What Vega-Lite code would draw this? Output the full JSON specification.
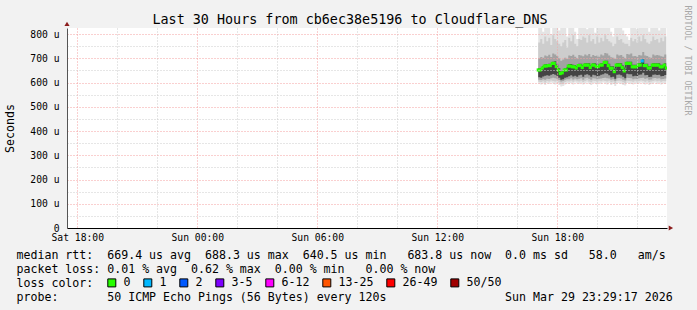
{
  "$schema": "https://vega.github.io/schema/vega-lite/v6.json",
  "width": 600,
  "height": 200,
  "autosize": "none",
  "padding": {"left": 67, "top": 28, "right": 30, "bottom": 82},
  "background": "#f2f2f2",
  "view": {"fill": "white", "stroke": null},
  "title": {
    "text": "Last 30 Hours from cb6ec38e5196 to Cloudflare_DNS",
    "font": "DejaVu Sans Mono",
    "fontSize": 13.4,
    "fontWeight": "normal",
    "color": "black",
    "anchor": "middle",
    "frame": "group",
    "dx": -17,
    "dy": 14,
    "offset": -18,
    "baseline": "alphabetic"
  },
  "config": {
    "font": "DejaVu Sans Mono",
    "axis": {"labelFont": "DejaVu Sans Mono", "titleFont": "DejaVu Sans Mono"}
  },
  "resolve": {"axis": {"y": "independent"}},
  "data": {
    "values": [
      {"time": "2026-03-29T17:03:00Z", "median": 652, "loss": "0", "min": 595, "p10": 603, "p25": 612, "p40": 622, "p60": 660, "p75": 700, "p90": 765, "max": 825},
      {"time": "2026-03-29T17:09:00Z", "median": 652, "loss": "0", "min": 592, "p10": 602, "p25": 610, "p40": 620, "p60": 660, "p75": 705, "p90": 780, "max": 825},
      {"time": "2026-03-29T17:15:00Z", "median": 660, "loss": "0", "min": 596, "p10": 605, "p25": 614, "p40": 625, "p60": 668, "p75": 702, "p90": 760, "max": 810},
      {"time": "2026-03-29T17:21:00Z", "median": 668, "loss": "0", "min": 590, "p10": 600, "p25": 612, "p40": 628, "p60": 675, "p75": 712, "p90": 790, "max": 825},
      {"time": "2026-03-29T17:27:00Z", "median": 668, "loss": "0", "min": 598, "p10": 606, "p25": 616, "p40": 630, "p60": 676, "p75": 708, "p90": 770, "max": 825},
      {"time": "2026-03-29T17:33:00Z", "median": 670, "loss": "0", "min": 594, "p10": 604, "p25": 615, "p40": 628, "p60": 678, "p75": 715, "p90": 785, "max": 825},
      {"time": "2026-03-29T17:39:00Z", "median": 670, "loss": "0", "min": 600, "p10": 608, "p25": 618, "p40": 632, "p60": 678, "p75": 705, "p90": 755, "max": 800},
      {"time": "2026-03-29T17:45:00Z", "median": 679, "loss": "0", "min": 596, "p10": 606, "p25": 620, "p40": 635, "p60": 686, "p75": 720, "p90": 795, "max": 825},
      {"time": "2026-03-29T17:51:00Z", "median": 679, "loss": "0", "min": 592, "p10": 604, "p25": 618, "p40": 632, "p60": 688, "p75": 716, "p90": 780, "max": 825},
      {"time": "2026-03-29T17:57:00Z", "median": 666, "loss": "0", "min": 598, "p10": 607, "p25": 616, "p40": 628, "p60": 674, "p75": 710, "p90": 770, "max": 825},
      {"time": "2026-03-29T18:03:00Z", "median": 652, "loss": "0", "min": 590, "p10": 600, "p25": 610, "p40": 620, "p60": 660, "p75": 700, "p90": 760, "max": 815},
      {"time": "2026-03-29T18:09:00Z", "median": 637, "loss": "0", "min": 584, "p10": 594, "p25": 604, "p40": 612, "p60": 646, "p75": 690, "p90": 750, "max": 825},
      {"time": "2026-03-29T18:15:00Z", "median": 640, "loss": "0", "min": 586, "p10": 596, "p25": 606, "p40": 614, "p60": 650, "p75": 695, "p90": 765, "max": 825},
      {"time": "2026-03-29T18:21:00Z", "median": 652, "loss": "0", "min": 592, "p10": 602, "p25": 612, "p40": 620, "p60": 660, "p75": 702, "p90": 775, "max": 825},
      {"time": "2026-03-29T18:27:00Z", "median": 652, "loss": "0", "min": 596, "p10": 605, "p25": 614, "p40": 622, "p60": 662, "p75": 698, "p90": 745, "max": 790},
      {"time": "2026-03-29T18:33:00Z", "median": 668, "loss": "0", "min": 594, "p10": 604, "p25": 614, "p40": 626, "p60": 676, "p75": 712, "p90": 785, "max": 825},
      {"time": "2026-03-29T18:39:00Z", "median": 668, "loss": "0", "min": 598, "p10": 607, "p25": 618, "p40": 630, "p60": 676, "p75": 710, "p90": 770, "max": 825},
      {"time": "2026-03-29T18:45:00Z", "median": 665, "loss": "0", "min": 592, "p10": 603, "p25": 613, "p40": 625, "p60": 673, "p75": 715, "p90": 795, "max": 825},
      {"time": "2026-03-29T18:51:00Z", "median": 665, "loss": "0", "min": 600, "p10": 608, "p25": 617, "p40": 628, "p60": 672, "p75": 706, "p90": 760, "max": 810},
      {"time": "2026-03-29T18:57:00Z", "median": 660, "loss": "0", "min": 596, "p10": 605, "p25": 614, "p40": 624, "p60": 668, "p75": 700, "p90": 750, "max": 780},
      {"time": "2026-03-29T19:03:00Z", "median": 670, "loss": "0", "min": 594, "p10": 604, "p25": 616, "p40": 630, "p60": 678, "p75": 714, "p90": 780, "max": 825},
      {"time": "2026-03-29T19:09:00Z", "median": 670, "loss": "0", "min": 598, "p10": 607, "p25": 618, "p40": 632, "p60": 678, "p75": 712, "p90": 775, "max": 825},
      {"time": "2026-03-29T19:15:00Z", "median": 662, "loss": "0", "min": 592, "p10": 602, "p25": 612, "p40": 624, "p60": 670, "p75": 708, "p90": 790, "max": 825},
      {"time": "2026-03-29T19:21:00Z", "median": 672, "loss": "0", "min": 596, "p10": 606, "p25": 618, "p40": 632, "p60": 680, "p75": 716, "p90": 785, "max": 825},
      {"time": "2026-03-29T19:27:00Z", "median": 672, "loss": "0", "min": 600, "p10": 609, "p25": 620, "p40": 634, "p60": 680, "p75": 712, "p90": 765, "max": 820},
      {"time": "2026-03-29T19:33:00Z", "median": 672, "loss": "0", "min": 594, "p10": 604, "p25": 616, "p40": 630, "p60": 680, "p75": 718, "p90": 795, "max": 825},
      {"time": "2026-03-29T19:39:00Z", "median": 662, "loss": "0", "min": 590, "p10": 601, "p25": 612, "p40": 624, "p60": 670, "p75": 706, "p90": 770, "max": 825},
      {"time": "2026-03-29T19:45:00Z", "median": 672, "loss": "0", "min": 598, "p10": 607, "p25": 618, "p40": 632, "p60": 680, "p75": 714, "p90": 780, "max": 825},
      {"time": "2026-03-29T19:51:00Z", "median": 672, "loss": "0", "min": 596, "p10": 606, "p25": 617, "p40": 630, "p60": 680, "p75": 710, "p90": 760, "max": 805},
      {"time": "2026-03-29T19:57:00Z", "median": 666, "loss": "0", "min": 592, "p10": 603, "p25": 614, "p40": 626, "p60": 674, "p75": 712, "p90": 790, "max": 825},
      {"time": "2026-03-29T20:03:00Z", "median": 666, "loss": "0", "min": 598, "p10": 607, "p25": 616, "p40": 628, "p60": 674, "p75": 706, "p90": 765, "max": 825},
      {"time": "2026-03-29T20:09:00Z", "median": 672, "loss": "0", "min": 594, "p10": 605, "p25": 617, "p40": 632, "p60": 680, "p75": 716, "p90": 785, "max": 825},
      {"time": "2026-03-29T20:15:00Z", "median": 672, "loss": "0", "min": 600, "p10": 608, "p25": 619, "p40": 634, "p60": 680, "p75": 712, "p90": 770, "max": 825},
      {"time": "2026-03-29T20:21:00Z", "median": 683, "loss": "0", "min": 596, "p10": 606, "p25": 620, "p40": 638, "p60": 690, "p75": 722, "p90": 795, "max": 825},
      {"time": "2026-03-29T20:27:00Z", "median": 683, "loss": "0", "min": 592, "p10": 604, "p25": 618, "p40": 636, "p60": 690, "p75": 720, "p90": 780, "max": 825},
      {"time": "2026-03-29T20:33:00Z", "median": 670, "loss": "0", "min": 598, "p10": 607, "p25": 617, "p40": 630, "p60": 678, "p75": 712, "p90": 770, "max": 825},
      {"time": "2026-03-29T20:39:00Z", "median": 659, "loss": "0", "min": 590, "p10": 601, "p25": 612, "p40": 622, "p60": 667, "p75": 704, "p90": 765, "max": 810},
      {"time": "2026-03-29T20:45:00Z", "median": 659, "loss": "0", "min": 594, "p10": 604, "p25": 614, "p40": 624, "p60": 667, "p75": 702, "p90": 750, "max": 790},
      {"time": "2026-03-29T20:51:00Z", "median": 645, "loss": "0", "min": 586, "p10": 597, "p25": 607, "p40": 616, "p60": 654, "p75": 698, "p90": 760, "max": 825},
      {"time": "2026-03-29T20:57:00Z", "median": 672, "loss": "0", "min": 596, "p10": 606, "p25": 618, "p40": 632, "p60": 680, "p75": 716, "p90": 790, "max": 825},
      {"time": "2026-03-29T21:03:00Z", "median": 672, "loss": "0", "min": 598, "p10": 607, "p25": 619, "p40": 633, "p60": 680, "p75": 712, "p90": 775, "max": 825},
      {"time": "2026-03-29T21:09:00Z", "median": 672, "loss": "0", "min": 594, "p10": 605, "p25": 617, "p40": 630, "p60": 680, "p75": 714, "p90": 780, "max": 825},
      {"time": "2026-03-29T21:15:00Z", "median": 662, "loss": "0", "min": 590, "p10": 601, "p25": 612, "p40": 624, "p60": 670, "p75": 706, "p90": 765, "max": 815},
      {"time": "2026-03-29T21:21:00Z", "median": 648, "loss": "0", "min": 588, "p10": 598, "p25": 608, "p40": 618, "p60": 656, "p75": 700, "p90": 760, "max": 800},
      {"time": "2026-03-29T21:27:00Z", "median": 679, "loss": "0", "min": 598, "p10": 607, "p25": 620, "p40": 636, "p60": 686, "p75": 718, "p90": 760, "max": 790},
      {"time": "2026-03-29T21:33:00Z", "median": 679, "loss": "0", "min": 596, "p10": 606, "p25": 619, "p40": 634, "p60": 686, "p75": 716, "p90": 750, "max": 775},
      {"time": "2026-03-29T21:39:00Z", "median": 679, "loss": "0", "min": 594, "p10": 605, "p25": 618, "p40": 634, "p60": 686, "p75": 720, "p90": 785, "max": 825},
      {"time": "2026-03-29T21:45:00Z", "median": 665, "loss": "0", "min": 592, "p10": 603, "p25": 614, "p40": 626, "p60": 673, "p75": 708, "p90": 770, "max": 825},
      {"time": "2026-03-29T21:51:00Z", "median": 665, "loss": "0", "min": 598, "p10": 607, "p25": 616, "p40": 628, "p60": 673, "p75": 710, "p90": 780, "max": 825},
      {"time": "2026-03-29T21:57:00Z", "median": 665, "loss": "0", "min": 594, "p10": 604, "p25": 615, "p40": 627, "p60": 673, "p75": 706, "p90": 765, "max": 820},
      {"time": "2026-03-29T22:03:00Z", "median": 672, "loss": "0", "min": 596, "p10": 606, "p25": 618, "p40": 632, "p60": 680, "p75": 714, "p90": 790, "max": 825},
      {"time": "2026-03-29T22:09:00Z", "median": 672, "loss": "0", "min": 600, "p10": 608, "p25": 619, "p40": 633, "p60": 680, "p75": 712, "p90": 770, "max": 825},
      {"time": "2026-03-29T22:15:00Z", "median": 689, "loss": "1", "min": 596, "p10": 606, "p25": 620, "p40": 640, "p60": 696, "p75": 726, "p90": 795, "max": 825},
      {"time": "2026-03-29T22:21:00Z", "median": 670, "loss": "0", "min": 592, "p10": 603, "p25": 616, "p40": 630, "p60": 678, "p75": 712, "p90": 780, "max": 825},
      {"time": "2026-03-29T22:27:00Z", "median": 670, "loss": "0", "min": 598, "p10": 607, "p25": 618, "p40": 631, "p60": 678, "p75": 710, "p90": 765, "max": 825},
      {"time": "2026-03-29T22:33:00Z", "median": 660, "loss": "0", "min": 590, "p10": 601, "p25": 612, "p40": 623, "p60": 668, "p75": 704, "p90": 760, "max": 810},
      {"time": "2026-03-29T22:39:00Z", "median": 660, "loss": "0", "min": 594, "p10": 604, "p25": 613, "p40": 624, "p60": 668, "p75": 702, "p90": 770, "max": 825},
      {"time": "2026-03-29T22:45:00Z", "median": 672, "loss": "0", "min": 596, "p10": 606, "p25": 618, "p40": 632, "p60": 680, "p75": 716, "p90": 790, "max": 825},
      {"time": "2026-03-29T22:51:00Z", "median": 672, "loss": "0", "min": 600, "p10": 608, "p25": 619, "p40": 633, "p60": 680, "p75": 712, "p90": 775, "max": 825},
      {"time": "2026-03-29T22:57:00Z", "median": 672, "loss": "0", "min": 594, "p10": 605, "p25": 617, "p40": 631, "p60": 680, "p75": 714, "p90": 780, "max": 825},
      {"time": "2026-03-29T23:03:00Z", "median": 672, "loss": "0", "min": 598, "p10": 607, "p25": 618, "p40": 632, "p60": 680, "p75": 712, "p90": 765, "max": 815},
      {"time": "2026-03-29T23:09:00Z", "median": 665, "loss": "0", "min": 592, "p10": 603, "p25": 614, "p40": 626, "p60": 673, "p75": 708, "p90": 785, "max": 825},
      {"time": "2026-03-29T23:15:00Z", "median": 665, "loss": "0", "min": 596, "p10": 606, "p25": 615, "p40": 627, "p60": 673, "p75": 706, "p90": 770, "max": 825},
      {"time": "2026-03-29T23:21:00Z", "median": 672, "loss": "0", "min": 594, "p10": 605, "p25": 617, "p40": 631, "p60": 680, "p75": 716, "p90": 790, "max": 825},
      {"time": "2026-03-29T23:27:00Z", "median": 660, "loss": "0", "min": 598, "p10": 607, "p25": 614, "p40": 624, "p60": 668, "p75": 704, "p90": 775, "max": 825}
    ]
  },
  "layer": [
    {
      "mark": {"type": "area", "color": "#e4e4e4", "interpolate": "step-after", "clip": true},
      "encoding": {
        "x": {
          "field": "time", "type": "temporal",
          "scale": {"type": "utc", "domain": [{"year": 2026, "month": 3, "date": 28, "hours": 17, "minutes": 29, "seconds": 17, "utc": true}, {"year": 2026, "month": 3, "date": 29, "hours": 23, "minutes": 29, "seconds": 17, "utc": true}]},
          "axis": {
            "title": [
              "median\u00a0rtt:\u00a0\u00a0669.4\u00a0us\u00a0avg\u00a0\u00a0688.3\u00a0us\u00a0max\u00a0\u00a0640.5\u00a0us\u00a0min\u00a0\u00a0\u00a0683.8\u00a0us\u00a0now\u00a0\u00a00.0\u00a0ms\u00a0sd\u00a0\u00a0\u00a058.0\u00a0\u00a0\u00a0am/s",
              "packet\u00a0loss:\u00a00.01\u00a0%\u00a0avg\u00a0\u00a00.62\u00a0%\u00a0max\u00a0\u00a00.00\u00a0%\u00a0min\u00a0\u00a0\u00a00.00\u00a0%\u00a0now",
              "loss\u00a0color:",
              "probe:\u00a0\u00a0\u00a0\u00a0\u00a0\u00a0\u00a050\u00a0ICMP\u00a0Echo\u00a0Pings\u00a0(56\u00a0Bytes)\u00a0every\u00a0120s\u00a0\u00a0\u00a0\u00a0\u00a0\u00a0\u00a0\u00a0\u00a0\u00a0\u00a0\u00a0\u00a0\u00a0\u00a0\u00a0\u00a0Sun\u00a0Mar\u00a029\u00a023:29:17\u00a02026"
            ],
            "titleFont": "DejaVu Sans Mono",
            "titleFontSize": 11.6,
            "titleFontWeight": "normal",
            "titleColor": "black",
            "titleAnchor": "start",
            "titleAlign": "left",
            "titleBaseline": "alphabetic",
            "titleX": -51,
            "titleY": 30,
            "titleLineHeight": 14,
            "values": [
              {"year": 2026, "month": 3, "date": 28, "hours": 18, "utc": true},
              {"year": 2026, "month": 3, "date": 28, "hours": 19, "utc": true},
              {"year": 2026, "month": 3, "date": 28, "hours": 20, "utc": true},
              {"year": 2026, "month": 3, "date": 28, "hours": 21, "utc": true},
              {"year": 2026, "month": 3, "date": 28, "hours": 22, "utc": true},
              {"year": 2026, "month": 3, "date": 28, "hours": 23, "utc": true},
              {"year": 2026, "month": 3, "date": 29, "hours": 0, "utc": true},
              {"year": 2026, "month": 3, "date": 29, "hours": 1, "utc": true},
              {"year": 2026, "month": 3, "date": 29, "hours": 2, "utc": true},
              {"year": 2026, "month": 3, "date": 29, "hours": 3, "utc": true},
              {"year": 2026, "month": 3, "date": 29, "hours": 4, "utc": true},
              {"year": 2026, "month": 3, "date": 29, "hours": 5, "utc": true},
              {"year": 2026, "month": 3, "date": 29, "hours": 6, "utc": true},
              {"year": 2026, "month": 3, "date": 29, "hours": 7, "utc": true},
              {"year": 2026, "month": 3, "date": 29, "hours": 8, "utc": true},
              {"year": 2026, "month": 3, "date": 29, "hours": 9, "utc": true},
              {"year": 2026, "month": 3, "date": 29, "hours": 10, "utc": true},
              {"year": 2026, "month": 3, "date": 29, "hours": 11, "utc": true},
              {"year": 2026, "month": 3, "date": 29, "hours": 12, "utc": true},
              {"year": 2026, "month": 3, "date": 29, "hours": 13, "utc": true},
              {"year": 2026, "month": 3, "date": 29, "hours": 14, "utc": true},
              {"year": 2026, "month": 3, "date": 29, "hours": 15, "utc": true},
              {"year": 2026, "month": 3, "date": 29, "hours": 16, "utc": true},
              {"year": 2026, "month": 3, "date": 29, "hours": 17, "utc": true},
              {"year": 2026, "month": 3, "date": 29, "hours": 18, "utc": true},
              {"year": 2026, "month": 3, "date": 29, "hours": 19, "utc": true},
              {"year": 2026, "month": 3, "date": 29, "hours": 20, "utc": true},
              {"year": 2026, "month": 3, "date": 29, "hours": 21, "utc": true},
              {"year": 2026, "month": 3, "date": 29, "hours": 22, "utc": true},
              {"year": 2026, "month": 3, "date": 29, "hours": 23, "utc": true}
            ],
            "labelExpr": "utchours(datum.value) % 6 === 0 ? utcFormat(datum.value, '%a %H:%M') : ''",
            "labelFont": "DejaVu Sans Mono",
            "labelFontSize": 9.7,
            "labelColor": "black",
            "labelPadding": 4,
            "labelOverlap": false,
            "labelFlush": false,
            "labelAngle": 0,
            "ticks": false,
            "tickSize": 0,
            "domainColor": "black",
            "domainWidth": 1,
            "grid": true,
            "gridColor": {"condition": {"test": "utchours(datum.value) % 3 === 0", "value": "#f4a0a0"}, "value": "#cccccc"},
            "gridDash": [1, 2],
            "gridWidth": 1,
            "zindex": 1
          }
        },
        "y": {
          "field": "min", "type": "quantitative",
          "scale": {"domain": [0, 825], "nice": false, "zero": true},
          "axis": {
            "orient": "left",
            "title": "Seconds",
            "titleFont": "DejaVu Sans Mono",
            "titleFontSize": 11.6,
            "titleFontWeight": "normal",
            "titleColor": "black",
            "titleAngle": 270,
            "titleX": -56.5,
            "titleY": 100,
            "titleAlign": "center",
            "titleBaseline": "middle",
            "values": [0, 50, 100, 150, 200, 250, 300, 350, 400, 450, 500, 550, 600, 650, 700, 750, 800],
            "labelExpr": "datum.value % 100 !== 0 ? '' : (datum.value === 0 ? '0\u00a0\u00a0' : datum.value + '\u00a0u')",
            "labelFont": "DejaVu Sans Mono",
            "labelFontSize": 9.7,
            "labelColor": "black",
            "labelPadding": 8,
            "labelOverlap": false,
            "labelFlush": false,
            "ticks": false,
            "tickSize": 0,
            "domainColor": "#555555",
            "grid": true,
            "gridColor": {"condition": {"test": "datum.value % 100 === 0", "value": "#f4a0a0"}, "value": "#cccccc"},
            "gridDash": [1, 2],
            "gridWidth": 1,
            "zindex": 1
          }
        },
        "y2": {"field": "max"}
      }
    },
    {
      "mark": {"type": "area", "color": "#cdcdcd", "interpolate": "step-after", "clip": true},
      "encoding": {
        "x": {"field": "time", "type": "temporal"},
        "y": {"field": "p10", "type": "quantitative", "axis": null},
        "y2": {"field": "p90"}
      }
    },
    {
      "mark": {"type": "area", "color": "#a2a2a2", "interpolate": "step-after", "clip": true},
      "encoding": {
        "x": {"field": "time", "type": "temporal"},
        "y": {"field": "p25", "type": "quantitative", "axis": null},
        "y2": {"field": "p75"}
      }
    },
    {
      "mark": {"type": "area", "color": "#444444", "interpolate": "step-after", "clip": true},
      "encoding": {
        "x": {"field": "time", "type": "temporal"},
        "y": {"field": "p40", "type": "quantitative", "axis": null},
        "y2": {"field": "p60"}
      }
    },
    {
      "mark": {"type": "line", "color": "#0c7a00", "strokeWidth": 1, "clip": true},
      "encoding": {
        "x": {"field": "time", "type": "temporal"},
        "y": {"field": "median", "type": "quantitative", "axis": null}
      }
    },
    {
      "mark": {"type": "point", "shape": "square", "filled": true, "size": 10, "opacity": 1, "clip": true},
      "encoding": {
        "x": {"field": "time", "type": "temporal"},
        "y": {"field": "median", "type": "quantitative", "axis": null},
        "color": {
          "field": "loss", "type": "nominal",
          "scale": {"domain": ["0", "1", "2", "3-5", "6-12", "13-25", "26-49", "50/50"], "range": ["#26ff00", "#00b8ff", "#0059ff", "#7e00ff", "#ff00ff", "#ff5500", "#ff0000", "#a00000"]},
          "legend": {
            "title": null,
            "orient": "none",
            "legendX": 39,
            "legendY": 249,
            "direction": "horizontal",
            "columns": 8,
            "padding": 0,
            "symbolType": "square",
            "symbolSize": 64,
            "symbolStrokeColor": "black",
            "symbolStrokeWidth": 1,
            "symbolOpacity": 1,
            "labelFont": "DejaVu Sans Mono",
            "labelFontSize": 11.6,
            "labelColor": "black",
            "labelOffset": 6,
            "columnPadding": 10,
            "encode": {"symbols": {"update": {"stroke": {"value": "black"}, "strokeWidth": {"value": 1}}}}
          }
        }
      }
    },
    {
      "data": {"values": [{}]},
      "mark": {"type": "point", "shape": "triangle-up", "filled": true, "size": 26, "color": "#8b1c1c", "opacity": 1, "clip": false},
      "encoding": {
        "x": {"datum": {"year": 2026, "month": 3, "date": 28, "hours": 17, "minutes": 29, "seconds": 17, "utc": true}, "type": "temporal"},
        "y": {
          "datum": 842, "type": "quantitative",
          "axis": {
            "orient": "right",
            "title": "RRDTOOL / TOBI OETIKER",
            "titleAngle": 90,
            "titleColor": "#a8a8a8",
            "titleFont": "DejaVu Sans Mono",
            "titleFontSize": 8.3,
            "titleFontWeight": "normal",
            "titleX": 19,
            "titleY": 32,
            "titleAlign": "center",
            "titleBaseline": "middle",
            "labels": false,
            "ticks": false,
            "domain": false,
            "grid": false
          }
        }
      }
    },
    {
      "data": {"values": [{}]},
      "mark": {"type": "point", "shape": "triangle-right", "filled": true, "size": 26, "color": "#8b1c1c", "opacity": 1, "clip": false},
      "encoding": {
        "x": {"datum": {"year": 2026, "month": 3, "date": 29, "hours": 23, "minutes": 41, "seconds": 0, "utc": true}, "type": "temporal"},
        "y": {"datum": 0, "type": "quantitative", "axis": null}
      }
    }
  ]
}
